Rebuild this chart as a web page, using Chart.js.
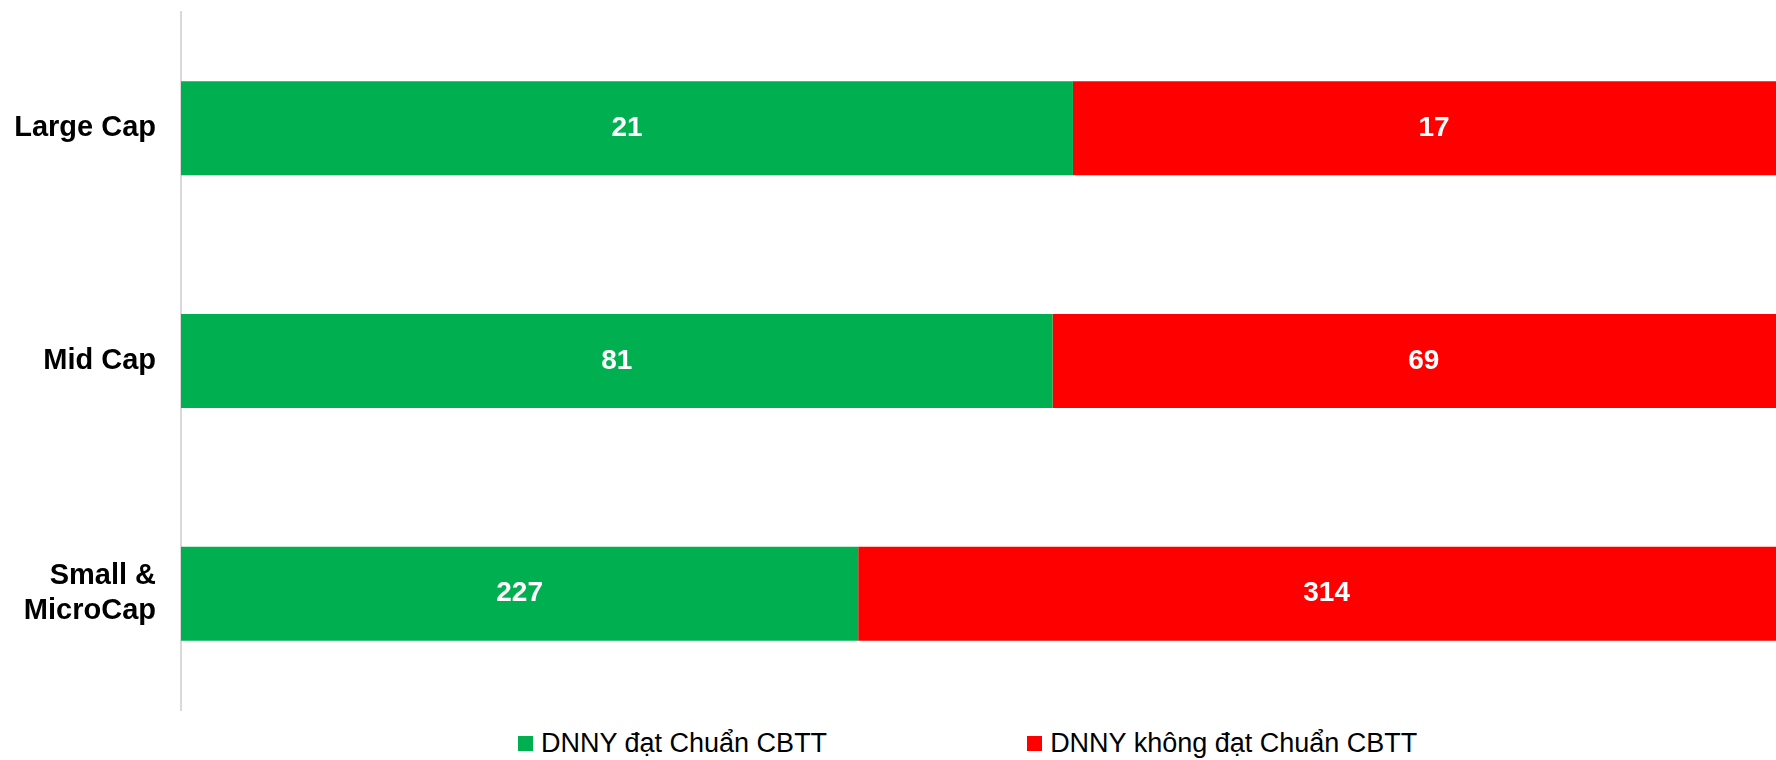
<!DOCTYPE html>
<html>
<head>
<meta charset="utf-8">
<script src="https://cdn.jsdelivr.net/npm/chart.js@4"></script>
<style>
    html, body { margin: 0; padding: 0; background: #fff; overflow: hidden; }
    #wrap { position: relative; width: 1776px; height: 760px; overflow: hidden; }
    #chart { position: absolute; left: 0; top: 0; }
    #legend {
        position: absolute; left: 518px; top: 728px;
        display: flex; gap: 200px;
        font-family: "Liberation Sans", Arial, sans-serif; font-size: 27px; color: #000;
    }
    .item { display: flex; align-items: center; white-space: nowrap; }
    .box { width: 15px; height: 15px; margin-right: 8px; }
</style>
</head>
<body>
<div id="wrap">
    <canvas id="chart" width="1795" height="712"></canvas>
    <div id="legend"></div>
</div>
<script>
const categories = [['Large Cap'], ['Mid Cap'], ['Small &', 'MicroCap']];
const seriesNames = ['DNNY đạt Chuẩn CBTT', 'DNNY không đạt Chuẩn CBTT'];
const passCounts = [21, 81, 227];
const failCounts = [17, 69, 314];
const colors = ['#00B050', '#FF0000'];

// 100% stacked: share of each group
const totals = passCounts.map((v, i) => v + failCounts[i]);
const passShare = passCounts.map((v, i) => v / totals[i] * 100);
const failShare = failCounts.map((v, i) => v / totals[i] * 100);

// write the counts in the middle of each segment
const valueLabels = {
    id: 'valueLabels',
    afterDatasetsDraw(chart) {
        const ctx = chart.ctx;
        ctx.save();
        ctx.font = 'bold 28px "Liberation Sans", Arial, sans-serif';
        ctx.fillStyle = '#fff';
        ctx.textAlign = 'center';
        ctx.textBaseline = 'middle';
        chart.data.datasets.forEach((ds, di) => {
            const meta = chart.getDatasetMeta(di);
            meta.data.forEach((bar, i) => {
                const x = (bar.x + bar.base) / 2;
                ctx.fillText(String(ds.counts[i]), x, bar.y);
            });
        });
        ctx.restore();
    }
};

const ctx = document.getElementById('chart').getContext('2d');
const chart = new Chart(ctx, {
    type: 'bar',
    data: {
        labels: categories,
        datasets: [{
            label: seriesNames[0],
            data: passShare,
            counts: passCounts,
            backgroundColor: colors[0]
        },
        {
            label: seriesNames[1],
            data: failShare,
            counts: failCounts,
            backgroundColor: colors[1]
        }]
    },
    options: {
        indexAxis: 'y',
        responsive: false,
        animation: false,
        categoryPercentage: 1,
        barPercentage: 0.404,
        layout: { padding: { top: 12, bottom: 2, left: 0, right: 0 } },
        plugins: {
            legend: { display: false },
            tooltip: { enabled: false }
        },
        scales: {
            x: {
                stacked: true,
                display: false,
                min: 0,
                max: 100
            },
            y: {
                stacked: true,
                grid: { display: false, drawTicks: false },
                border: { display: true, color: '#d9d9d9', width: 2 },
                ticks: {
                    color: '#000',
                    padding: 25,
                    font: { family: '"Liberation Sans", Arial, sans-serif', size: 29, weight: 'bold', lineHeight: 1.2 }
                },
                afterFit(scale) {
                    scale.width = 181;
                    scale.paddingTop = 0;
                    scale.paddingBottom = 0;
                }
            }
        }
    },
    plugins: [valueLabels]
});

// legend below the plot
const legend = document.getElementById('legend');
chart.data.datasets.forEach(ds => {
    const item = document.createElement('div');
    item.className = 'item';
    const box = document.createElement('span');
    box.className = 'box';
    box.style.background = ds.backgroundColor;
    const txt = document.createElement('span');
    txt.textContent = ds.label;
    item.appendChild(box);
    item.appendChild(txt);
    legend.appendChild(item);
});
</script>
</body>
</html>
